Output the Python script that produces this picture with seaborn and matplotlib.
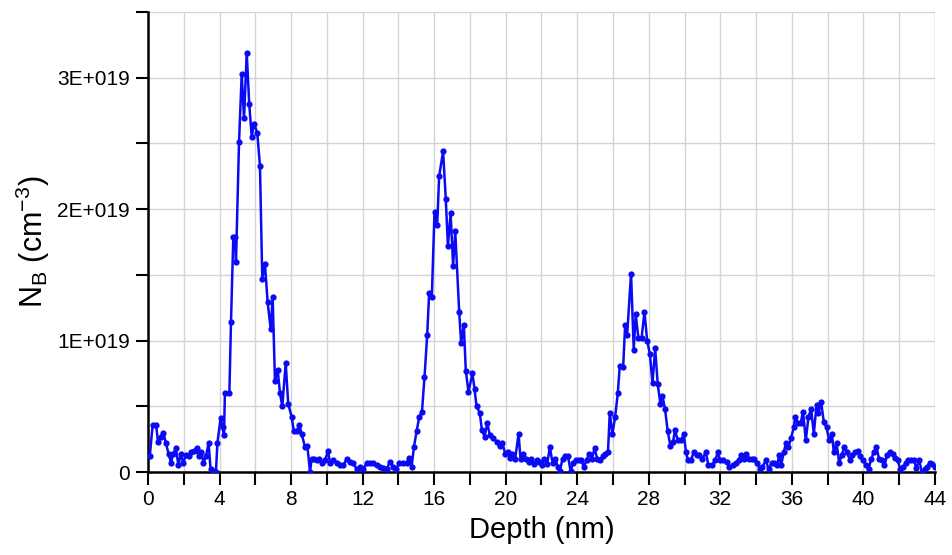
import numpy as np
import pandas as pd
import seaborn as sns
import matplotlib.pyplot as plt
from matplotlib.ticker import MultipleLocator, FuncFormatter

# depth (nm) and boron concentration (units of 1e19 cm-3)
depth = [
    0.10, 0.26, 0.45, 0.56, 0.70, 0.86, 1.00, 1.15, 1.29, 1.40, 1.56, 1.70, 1.83, 1.97,
    2.12, 2.27, 2.42, 2.57, 2.72, 2.83, 2.98, 3.10, 3.24, 3.39, 3.50, 3.65, 3.80, 3.88,
    4.06, 4.17, 4.25, 4.30, 4.55, 4.64, 4.77, 4.86, 4.92, 5.09, 5.24, 5.37, 5.52, 5.66,
    5.80, 5.93, 6.11, 6.26, 6.39, 6.54, 6.69, 6.86, 6.97, 7.10, 7.25, 7.38, 7.51, 7.70,
    7.84, 8.03, 8.16, 8.31, 8.46, 8.59, 8.78, 8.91, 9.06, 9.15, 9.28, 9.43, 9.58, 9.71,
    9.90, 10.06, 10.18, 10.36, 10.55, 10.74, 10.92, 11.11, 11.29, 11.48, 11.67, 11.85,
    12.04, 12.23, 12.41, 12.60, 12.79, 12.97, 13.16, 13.34, 13.53, 13.68, 13.87, 14.05,
    14.28, 14.46, 14.61, 14.74, 14.87, 15.02, 15.17, 15.32, 15.46, 15.61, 15.72, 15.87,
    16.02, 16.17, 16.28, 16.50, 16.65, 16.77, 16.92, 17.06, 17.18, 17.40, 17.51, 17.66,
    17.77, 17.92, 18.14, 18.26, 18.37, 18.55, 18.67, 18.82, 18.97, 19.12, 19.30, 19.49,
    19.67, 19.82, 19.97, 20.12, 20.23, 20.38, 20.53, 20.72, 20.83, 20.98, 21.13, 21.28,
    21.43, 21.58, 21.73, 21.88, 22.03, 22.17, 22.32, 22.47, 22.62, 22.77, 22.92, 23.03,
    23.18, 23.33, 23.48, 23.63, 23.78, 23.93, 24.08, 24.22, 24.37, 24.52, 24.67, 24.82,
    24.97, 25.12, 25.27, 25.42, 25.56, 25.72, 25.82, 25.97, 26.12, 26.27, 26.38, 26.57,
    26.68, 26.79, 27.01, 27.16, 27.27, 27.42, 27.60, 27.76, 27.91, 28.06, 28.21, 28.36,
    28.50, 28.65, 28.76, 28.91, 29.06, 29.21, 29.36, 29.47, 29.62, 29.81, 29.96, 30.08,
    30.20, 30.35, 30.52, 30.67, 30.82, 31.00, 31.19, 31.34, 31.53, 31.72, 31.86, 31.98,
    32.16, 32.35, 32.50, 32.69, 32.87, 33.02, 33.17, 33.32, 33.46, 33.61, 33.76, 33.91,
    34.06, 34.21, 34.36, 34.55, 34.70, 34.88, 35.03, 35.18, 35.29, 35.40, 35.55, 35.67,
    35.81, 35.96, 36.11, 36.19, 36.34, 36.49, 36.63, 36.78, 36.93, 37.08, 37.23, 37.38,
    37.49, 37.64, 37.79, 37.94, 38.09, 38.24, 38.35, 38.50, 38.65, 38.79, 38.94, 39.09,
    39.24, 39.39, 39.54, 39.69, 39.84, 39.99, 40.14, 40.29, 40.44, 40.58, 40.73, 40.88,
    41.03, 41.18, 41.33, 41.48, 41.63, 41.78, 41.92, 42.07, 42.22, 42.37, 42.52, 42.67,
    42.82, 42.97, 43.12, 43.27, 43.42, 43.56, 43.71, 43.86, 44.00,
]
conc = [
    0.12, 0.36, 0.36, 0.23, 0.27, 0.30, 0.22, 0.14, 0.07, 0.14, 0.18, 0.05, 0.14, 0.07,
    0.13, 0.12, 0.15, 0.16, 0.18, 0.12, 0.15, 0.07, 0.12, 0.22, 0.02, 0.01, 0.00, 0.22,
    0.41, 0.34, 0.28, 0.60, 0.60, 1.14, 1.79, 1.79, 1.60, 2.51, 3.03, 2.69, 3.19, 2.80,
    2.55, 2.65, 2.58, 2.33, 1.47, 1.58, 1.29, 1.09, 1.33, 0.69, 0.78, 0.60, 0.50, 0.83,
    0.52, 0.42, 0.31, 0.31, 0.36, 0.29, 0.19, 0.20, 0.00, 0.10, 0.10, 0.09, 0.10, 0.07,
    0.09, 0.16, 0.07, 0.09, 0.07, 0.05, 0.05, 0.10, 0.08, 0.07, 0.02, 0.04,
    0.02, 0.07, 0.07, 0.07, 0.05, 0.04, 0.03, 0.02, 0.08, 0.04, 0.02, 0.07,
    0.07, 0.07, 0.11, 0.04, 0.19, 0.31, 0.42, 0.46, 0.72, 1.04, 1.36, 1.33,
    1.98, 1.88, 2.25, 2.44, 2.08, 1.72, 1.97, 1.57, 1.83, 1.22, 0.98, 1.12,
    0.77, 0.61, 0.75, 0.63, 0.50, 0.45, 0.32, 0.27, 0.37, 0.28, 0.26, 0.23,
    0.20, 0.22, 0.14, 0.15, 0.11, 0.14, 0.10, 0.29, 0.10, 0.14, 0.10, 0.08,
    0.10, 0.06, 0.09, 0.08, 0.05, 0.10, 0.06, 0.19, 0.07, 0.10, 0.04, 0.01,
    0.10, 0.12, 0.12, 0.01, 0.07, 0.09, 0.09, 0.09, 0.04, 0.09, 0.14, 0.10,
    0.18, 0.10, 0.09, 0.12, 0.14, 0.15, 0.45, 0.29, 0.42, 0.60, 0.81, 0.80,
    1.12, 1.04, 1.51, 0.93, 1.20, 1.02, 1.02, 1.22, 1.00, 0.90, 0.68, 0.94,
    0.67, 0.52, 0.58, 0.48, 0.31, 0.20, 0.23, 0.32, 0.24, 0.24, 0.29, 0.15,
    0.09, 0.09, 0.15, 0.13, 0.13, 0.10, 0.15, 0.05, 0.05, 0.09, 0.15, 0.09,
    0.09, 0.08, 0.04, 0.05, 0.07, 0.09, 0.13, 0.10, 0.14, 0.10, 0.10, 0.10,
    0.07, 0.02, 0.04, 0.09, 0.02, 0.07, 0.07, 0.05, 0.13, 0.05, 0.15, 0.22,
    0.19, 0.26, 0.34, 0.42, 0.37, 0.37, 0.46, 0.24, 0.42, 0.48, 0.29, 0.51,
    0.45, 0.53, 0.38, 0.34, 0.24, 0.29, 0.15, 0.22, 0.07, 0.13, 0.19, 0.15,
    0.09, 0.13, 0.15, 0.16, 0.12, 0.09, 0.05, 0.02, 0.10, 0.15, 0.19, 0.10,
    0.09, 0.05, 0.13, 0.15, 0.14, 0.11, 0.09, 0.02, 0.04, 0.07, 0.09, 0.09,
    0.09, 0.03, 0.09, 0.00, 0.02, 0.04, 0.07, 0.06, 0.04,
]

df = pd.DataFrame({"Depth (nm)": depth, "NB": np.array(conc) * 1e19})

sns.set_style("ticks")
plt.rcParams['font.family'] = ['Liberation Sans', 'DejaVu Sans']
plt.rcParams['mathtext.fontset'] = 'custom'
plt.rcParams['mathtext.rm'] = 'Liberation Sans'
plt.rcParams['text.color'] = 'black'
plt.rcParams['axes.labelcolor'] = 'black'
plt.rcParams['xtick.color'] = 'black'
plt.rcParams['ytick.color'] = 'black'

fig = plt.figure(figsize=(9.53, 5.55), dpi=100)
ax = fig.add_axes([0.1553, 0.1495, 0.8257, 0.8289])

sns.lineplot(x="Depth (nm)", y="NB", data=df, ax=ax, color="#0a0af5",
             marker="o", markersize=4.5, markeredgewidth=0, linewidth=1.8,
             sort=False, zorder=3)

ax.set_xlim(0, 44)
ax.set_ylim(0, 3.5e19)
ax.xaxis.set_major_locator(MultipleLocator(4))
ax.xaxis.set_minor_locator(MultipleLocator(2))
ax.yaxis.set_major_locator(MultipleLocator(1e19))
ax.yaxis.set_minor_locator(MultipleLocator(0.5e19))
ax.yaxis.set_major_formatter(FuncFormatter(lambda v, p: "0" if v == 0 else "%dE+019" % round(v / 1e19)))

ax.grid(True, which="both", color="#d4d4d4", linewidth=1.0, zorder=0)
ax.axvline(44, color="#d4d4d4", linewidth=1.0, zorder=0)
for s in ["top", "right"]:
    ax.spines[s].set_visible(False)
for s in ["left", "bottom"]:
    ax.spines[s].set_linewidth(1.8)
    ax.spines[s].set_color("black")

ax.tick_params(which="both", direction="out", length=9, width=1.5, color="black",
               labelcolor="black", labelsize=15, pad=4)

ax.set_xlabel("Depth (nm)", fontsize=21, labelpad=5)
ax.set_ylabel(r"N$_{\mathregular{B}}$ (cm$^{\mathregular{-3}}$)", fontsize=22, labelpad=4)

fig.savefig("out.png", dpi=100)
